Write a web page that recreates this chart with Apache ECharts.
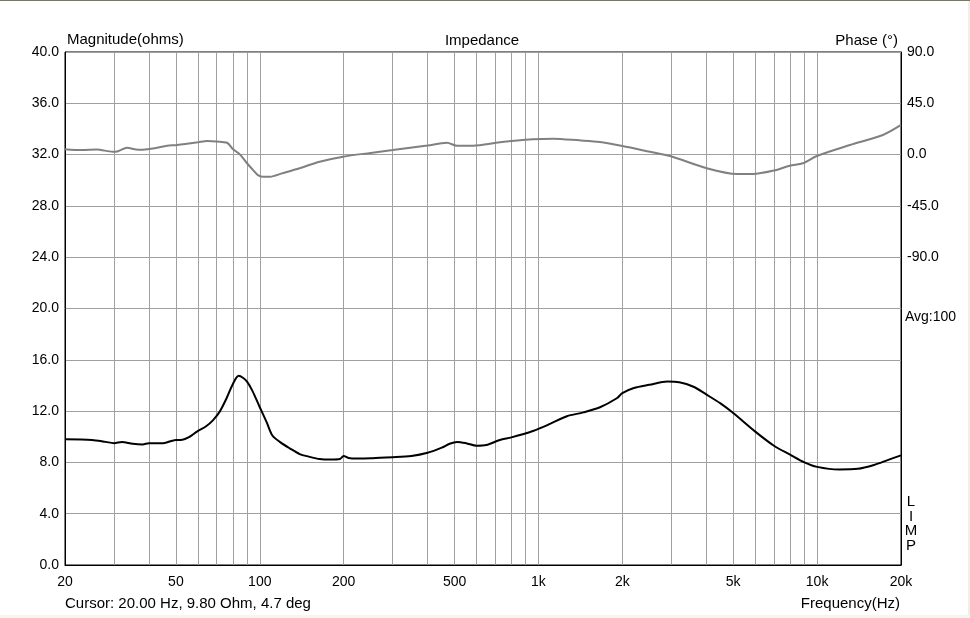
<!DOCTYPE html>
<html>
<head>
<meta charset="utf-8">
<title>Impedance</title>
<script src="https://cdn.jsdelivr.net/npm/echarts@6/dist/echarts.min.js"></script>
<style>
  html, body { margin: 0; padding: 0; background: #ffffff; }
  #chart { width: 970px; height: 618px; }
</style>
</head>
<body>
<div id="chart"></div>
<script>
// Curve data (frequency in Hz)
const magFreq = [20, 25, 28, 30, 32, 35, 38, 40, 45, 50, 52, 56, 59.5, 64, 68, 72, 76, 80, 84, 87,
  90, 94, 100, 106, 111, 118, 128, 139, 150, 164, 180, 194, 200, 208, 223, 250, 270, 300, 350, 400,
  450, 480, 510, 550, 600, 650, 727, 800, 955, 1100, 1265, 1450, 1663, 1911, 2000, 2200, 2500, 2900,
  3200, 3600, 4000, 4500, 5000, 6000, 7000, 8000, 9000, 10000, 12000, 14000, 16000, 18000, 20000];
const magOhm = [9.8, 9.75, 9.6, 9.5, 9.6, 9.45, 9.4, 9.5, 9.5, 9.75, 9.75, 10.0, 10.4, 10.8, 11.3, 12.0, 13.0, 14.1, 14.75, 14.6,
  14.3, 13.6, 12.3, 11.1, 10.1, 9.6, 9.1, 8.65, 8.45, 8.26, 8.22, 8.26, 8.5, 8.35, 8.3, 8.32, 8.37, 8.4, 8.5, 8.75,
  9.15, 9.45, 9.6, 9.5, 9.3, 9.35, 9.75, 9.95, 10.45, 11.0, 11.6, 11.9, 12.3, 13.0, 13.4, 13.8, 14.05, 14.3,
  14.25, 13.9, 13.3, 12.6, 11.85, 10.4, 9.3, 8.6, 8.0, 7.65, 7.45, 7.5, 7.8, 8.2, 8.55];

const phaseFreq = [20, 23, 26, 29.7, 31, 33.4, 36, 38, 42, 46.5, 50, 54.8, 60, 64.7, 70, 76.3, 80, 85, 90, 95,
  98.5, 103, 108.8, 120, 139, 164, 199, 250, 300, 400, 469, 510, 582, 727, 955, 1127, 1400, 1663, 2000, 2512,
  2966, 4024, 5156, 5883, 7000, 7982, 8888, 9980, 13112, 17220, 20000];
const phaseDeg = [4.8, 4.0, 4.5, 2.5, 3.0, 6.0, 4.5, 4.3, 5.5, 7.8, 8.3, 9.6, 10.8, 11.9, 11.5, 10.4, 5, 0, -7.6, -14,
  -18, -19.5, -19.4, -16.5, -12, -6.2, -1.8, 1.5, 4.0, 8, 10.4, 7.8, 7.8, 10.8, 13.4, 14, 12.5, 11, 7.5, 2.5,
  -1.2, -12, -17, -17, -14, -9.7, -7.6, -1.2, 8.4, 17.2, 26];

// Axis ticks
const gridFreqs = [20, 30, 40, 50, 60, 70, 80, 90, 100, 200, 300, 400, 500, 600, 700, 800, 900,
  1000, 2000, 3000, 4000, 5000, 6000, 7000, 8000, 9000, 10000, 20000];
const freqLabels = [20, 50, 100, 200, 500, 1000, 2000, 5000, 10000, 20000];

const fontFamily = '"Liberation Sans", Arial, sans-serif';

const chart = echarts.init(document.getElementById('chart'));

const pairs = (xs, ys) => xs.map((x, i) => [x, ys[i]]);

const option = {
  backgroundColor: '#ffffff',
  animation: false,
  grid: {
    left: 65, right: 69, top: 52, bottom: 53,
    show: true, borderColor: '#000000', borderWidth: 1, backgroundColor: '#ffffff'
  },
  xAxis: {
    type: 'log',
    logBase: 10,
    min: 20,
    max: 20000,
    axisLine: { show: true, lineStyle: { color: '#000000', width: 1 } },
    axisTick: { show: false, customValues: gridFreqs },
    splitLine: { show: true, lineStyle: { color: '#a0a0a0', width: 1 } },
    axisLabel: {
      customValues: freqLabels,
      color: '#000000', fontFamily, fontSize: 14, margin: 10,
      formatter: v => v >= 1000 ? (v / 1000) + 'k' : String(v)
    }
  },
  yAxis: [
    {
      type: 'value', min: 0, max: 40, interval: 4,
      axisLine: { show: true, lineStyle: { color: '#000000' } },
      axisTick: { show: false },
      splitLine: { show: true, lineStyle: { color: '#a0a0a0', width: 1 } },
      axisLabel: { color: '#000000', fontFamily, fontSize: 14, margin: 6, formatter: v => v.toFixed(1) }
    },
    {
      type: 'value', min: -360, max: 90, interval: 45, position: 'right',
      axisLine: { show: true, lineStyle: { color: '#000000' } },
      axisTick: { show: false },
      splitLine: { show: false },
      axisLabel: {
        color: '#000000', fontFamily, fontSize: 14, margin: 6,
        formatter: v => v >= -90 ? v.toFixed(1) : ''
      }
    }
  ],
  series: [
    {
      name: 'Phase', type: 'line', yAxisIndex: 1,
      data: pairs(phaseFreq, phaseDeg),
      smooth: 0.3, showSymbol: false,
      lineStyle: { color: '#808080', width: 2 }
    },
    {
      name: 'Magnitude', type: 'line', yAxisIndex: 0,
      data: pairs(magFreq, magOhm),
      smooth: 0.3, showSymbol: false,
      lineStyle: { color: '#000000', width: 2 }
    }
  ],
  graphic: [
    { type: 'rect', shape: { x: 0, y: 0, width: 970, height: 1 }, style: { fill: '#77776a' }, silent: true },
    { type: 'rect', shape: { x: 968, y: 1, width: 2, height: 617 }, style: { fill: '#efefe2' }, silent: true },
    { type: 'rect', shape: { x: 0, y: 615, width: 970, height: 3 }, style: { fill: '#f5f5ea' }, silent: true },
    { type: 'text', left: 67, top: 32, style: { text: 'Magnitude(ohms)', font: '15px ' + fontFamily, fill: '#000' } },
    { type: 'text', x: 482, y: 41, style: { text: 'Impedance', font: '15px ' + fontFamily, fill: '#000', align: 'center', verticalAlign: 'middle' } },
    { type: 'text', x: 898, y: 41, style: { text: 'Phase (°)', font: '15px ' + fontFamily, fill: '#000', align: 'right', verticalAlign: 'middle' } },
    { type: 'text', x: 905, y: 317, style: { text: 'Avg:100', font: '14px ' + fontFamily, fill: '#000', verticalAlign: 'middle' } },
    { type: 'text', x: 911, y: 495, style: { text: 'L\nI\nM\nP', font: '15px ' + fontFamily, fill: '#000', align: 'center', lineHeight: 14.5 } },
    { type: 'text', x: 65, y: 604, style: { text: 'Cursor: 20.00 Hz, 9.80 Ohm, 4.7 deg', font: '15px ' + fontFamily, fill: '#000', verticalAlign: 'middle' } },
    { type: 'text', x: 900, y: 604, style: { text: 'Frequency(Hz)', font: '15px ' + fontFamily, fill: '#000', align: 'right', verticalAlign: 'middle' } }
  ]
};

chart.setOption(option);
</script>
</body>
</html>
